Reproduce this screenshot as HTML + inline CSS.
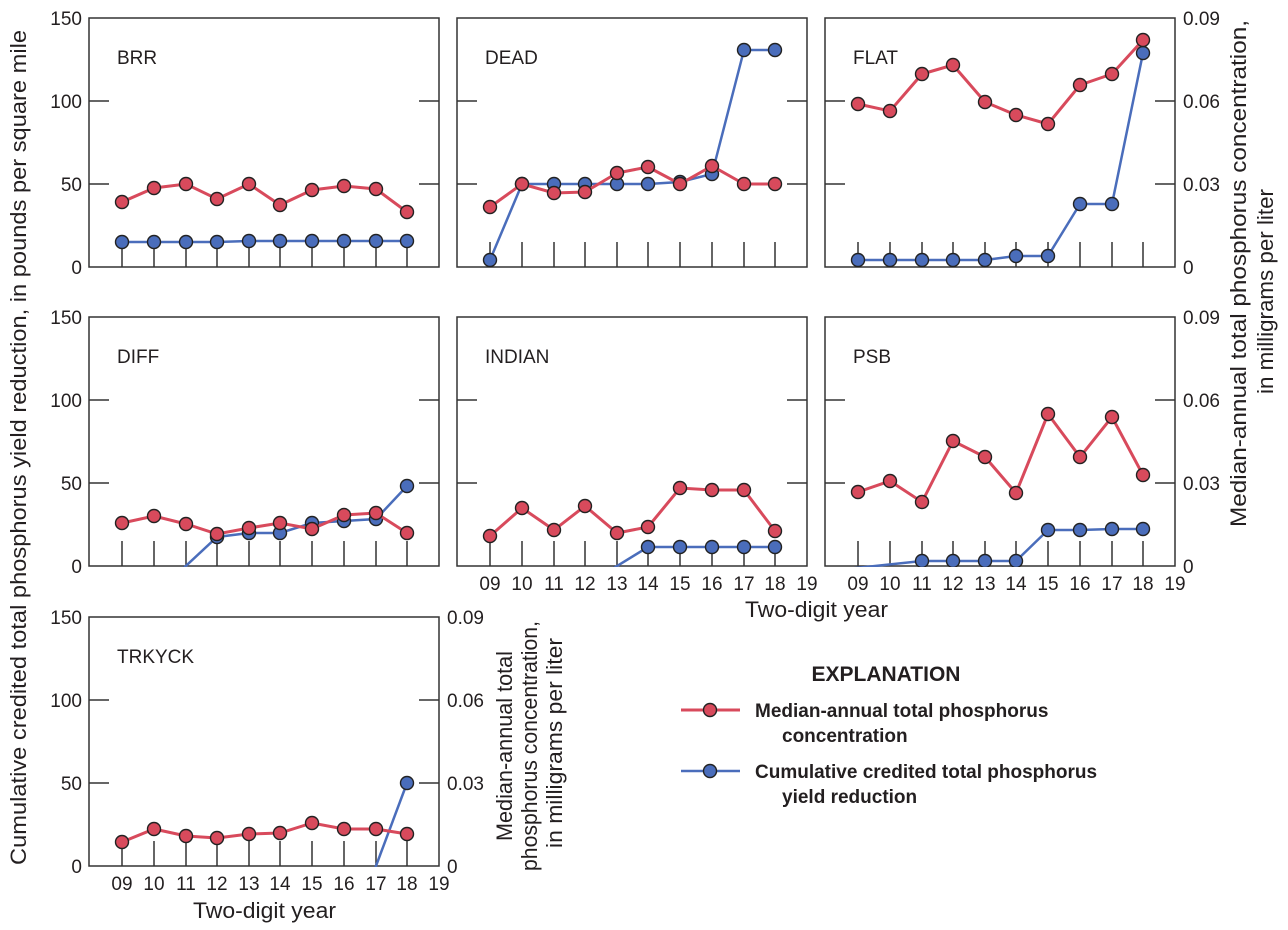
<!DOCTYPE html>
<html><head><meta charset="utf-8"><style>
body{margin:0;background:#fff}
svg{display:block;font-family:"Liberation Sans Narrow","Liberation Sans",sans-serif}
.t{font-size:19px;fill:#231f20}
.b{font-size:19px;font-weight:bold;fill:#231f20}
.ax{fill:none;stroke:#333;stroke-width:1.5}
.r{fill:none;stroke:#d84a5c;stroke-width:3;marker-start:url(#mr);marker-mid:url(#mr);marker-end:url(#mr)}
.bl{fill:none;stroke:#4a6dbb;stroke-width:2.5;marker-start:url(#mb);marker-mid:url(#mb);marker-end:url(#mb)}
</style></head><body>
<svg width="1288" height="930" viewBox="0 0 1288 930">
<defs>
<marker id="mr" markerUnits="userSpaceOnUse" markerWidth="18" markerHeight="18" viewBox="-9 -9 18 18" refX="0" refY="0" overflow="visible"><circle r="6.5" fill="#d84a5c" stroke="#222" stroke-width="1.4"/></marker>
<marker id="mb" markerUnits="userSpaceOnUse" markerWidth="18" markerHeight="18" viewBox="-9 -9 18 18" refX="0" refY="0" overflow="visible"><circle r="6.5" fill="#4a6dbb" stroke="#222" stroke-width="1.4"/></marker>
<clipPath id="c4"><rect x="89" y="317" width="350" height="250"/></clipPath>
<clipPath id="c5"><rect x="457" y="317" width="350" height="250"/></clipPath>
<clipPath id="c6"><rect x="825" y="317" width="350" height="250"/></clipPath>
<clipPath id="c7"><rect x="89" y="617" width="350" height="250"/></clipPath>
<g id="ticks">
<path class="ax" d="M0 83h20M0 166h20M350 83h-20M350 166h-20M33 249v-25M65 249v-25M97 249v-25M128 249v-25M160 249v-25M191 249v-25M223 249v-25M255 249v-25M287 249v-25M318 249v-25"/>
<rect class="ax" x="0" y="0" width="350" height="249"/>
</g>
</defs>
<use href="#ticks" x="89" y="18"/><use href="#ticks" x="457" y="18"/><use href="#ticks" x="825" y="18"/>
<use href="#ticks" x="89" y="317"/><use href="#ticks" x="457" y="317"/><use href="#ticks" x="825" y="317"/>
<use href="#ticks" x="89" y="617"/>

<g class="t" text-anchor="end">
<text x="82" y="25">150</text><text x="82" y="108">100</text><text x="82" y="191">50</text><text x="82" y="274">0</text>
<text x="82" y="324">150</text><text x="82" y="407">100</text><text x="82" y="490">50</text><text x="82" y="573">0</text>
<text x="82" y="624">150</text><text x="82" y="707">100</text><text x="82" y="790">50</text><text x="82" y="873">0</text>
</g>
<g class="t">
<text x="1183" y="25">0.09</text><text x="1183" y="108">0.06</text><text x="1183" y="191">0.03</text><text x="1183" y="274">0</text>
<text x="1183" y="324">0.09</text><text x="1183" y="407">0.06</text><text x="1183" y="490">0.03</text><text x="1183" y="573">0</text>
<text x="447" y="624">0.09</text><text x="447" y="707">0.06</text><text x="447" y="790">0.03</text><text x="447" y="873">0</text>
<text x="117" y="64">BRR</text><text x="485" y="64">DEAD</text><text x="853" y="64">FLAT</text>
<text x="117" y="363">DIFF</text><text x="485" y="363">INDIAN</text><text x="853" y="363">PSB</text>
<text x="117" y="663">TRKYCK</text>
</g>
<g class="t" text-anchor="middle">
<text x="490" y="590">09</text><text x="522" y="590">10</text><text x="554" y="590">11</text><text x="585" y="590">12</text><text x="617" y="590">13</text><text x="648" y="590">14</text><text x="680" y="590">15</text><text x="712" y="590">16</text><text x="744" y="590">17</text><text x="775" y="590">18</text><text x="807" y="590">19</text>
<text x="858" y="590">09</text><text x="890" y="590">10</text><text x="922" y="590">11</text><text x="953" y="590">12</text><text x="985" y="590">13</text><text x="1016" y="590">14</text><text x="1048" y="590">15</text><text x="1080" y="590">16</text><text x="1112" y="590">17</text><text x="1143" y="590">18</text><text x="1175" y="590">19</text>
<text x="122" y="890">09</text><text x="154" y="890">10</text><text x="186" y="890">11</text><text x="217" y="890">12</text><text x="249" y="890">13</text><text x="280" y="890">14</text><text x="312" y="890">15</text><text x="344" y="890">16</text><text x="376" y="890">17</text><text x="407" y="890">18</text><text x="439" y="890">19</text>
</g>
<g class="t" style="font-size:22px">
<text x="745" y="617" textLength="143" lengthAdjust="spacingAndGlyphs">Two-digit year</text>
<text x="193" y="918" textLength="143" lengthAdjust="spacingAndGlyphs">Two-digit year</text>
<text transform="translate(26,865) rotate(-90)" textLength="835" lengthAdjust="spacingAndGlyphs">Cumulative credited total phosphorus yield reduction, in pounds per square mile</text>
<text transform="translate(1246,527) rotate(-90)" textLength="507" lengthAdjust="spacingAndGlyphs">Median-annual total phosphorus concentration,</text>
<text transform="translate(1273,394) rotate(-90)" textLength="205" lengthAdjust="spacingAndGlyphs">in milligrams per liter</text>
<text transform="translate(512,841) rotate(-90)" textLength="190" lengthAdjust="spacingAndGlyphs">Median-annual total</text>
<text transform="translate(537,871) rotate(-90)" textLength="250" lengthAdjust="spacingAndGlyphs">phosphorus concentration,</text>
<text transform="translate(562,848) rotate(-90)" textLength="210" lengthAdjust="spacingAndGlyphs">in milligrams per liter</text>
</g>

<!-- BRR -->
<polyline class="bl" points="122,242 154,242 186,242 217,242 249,241 280,241 312,241 344,241 376,241 407,241"/>
<polyline class="r" points="122,202 154,188 186,184 217,199 249,184 280,205 312,190 344,186 376,189 407,212"/>
<!-- DEAD -->
<polyline class="bl" points="490,260 522,184 554,184 585,184 617,184 648,184 680,182 712,174 744,50 775,50"/>
<polyline class="r" points="490,207 522,184 554,193 585,192 617,173 648,167 680,184 712,166 744,184 775,184"/>
<!-- FLAT -->
<polyline class="bl" points="858,260 890,260 922,260 953,260 985,260 1016,256 1048,256 1080,204 1112,204 1143,53"/>
<polyline class="r" points="858,104 890,111 922,74 953,65 985,102 1016,115 1048,124 1080,85 1112,74 1143,40"/>
<!-- DIFF -->
<g clip-path="url(#c4)"><polyline class="bl" points="160,590 217,537 249,533 280,533 312,523 344,521 376,519 407,486"/></g>
<polyline class="r" points="122,523 154,516 186,524 217,534 249,528 280,523 312,529 344,515 376,513 407,533"/>
<!-- INDIAN -->
<g clip-path="url(#c5)"><polyline class="bl" points="578,590 648,547 680,547 712,547 744,547 775,547"/></g>
<polyline class="r" points="490,536 522,508 554,530 585,506 617,533 648,527 680,488 712,490 744,490 775,531"/>
<!-- PSB -->
<g clip-path="url(#c6)"><polyline class="bl" points="800,574 922,561 953,561 985,561 1016,561 1048,530 1080,530 1112,529 1143,529"/></g>
<polyline class="r" points="858,492 890,481 922,502 953,441 985,457 1016,493 1048,414 1080,457 1112,417 1143,475"/>
<!-- TRKYCK -->
<g clip-path="url(#c7)"><polyline class="bl" points="367,890 407,783"/></g>
<polyline class="r" points="122,842 154,829 186,836 217,838 249,834 280,833 312,823 344,829 376,829 407,834"/>

<!-- legend -->
<text class="b" x="886" y="681" text-anchor="middle" style="font-size:21px">EXPLANATION</text>
<line x1="681" y1="710" x2="740" y2="710" stroke="#d84a5c" stroke-width="3"/>
<circle cx="710" cy="710" r="6.5" fill="#d84a5c" stroke="#222" stroke-width="1.4"/>
<text class="b" x="755" y="717">Median-annual total phosphorus</text>
<text class="b" x="782" y="742">concentration</text>
<line x1="681" y1="771" x2="740" y2="771" stroke="#4a6dbb" stroke-width="2.5"/>
<circle cx="710" cy="771" r="6.5" fill="#4a6dbb" stroke="#222" stroke-width="1.4"/>
<text class="b" x="755" y="778">Cumulative credited total phosphorus</text>
<text class="b" x="782" y="803">yield reduction</text>
</svg>
</body></html>
